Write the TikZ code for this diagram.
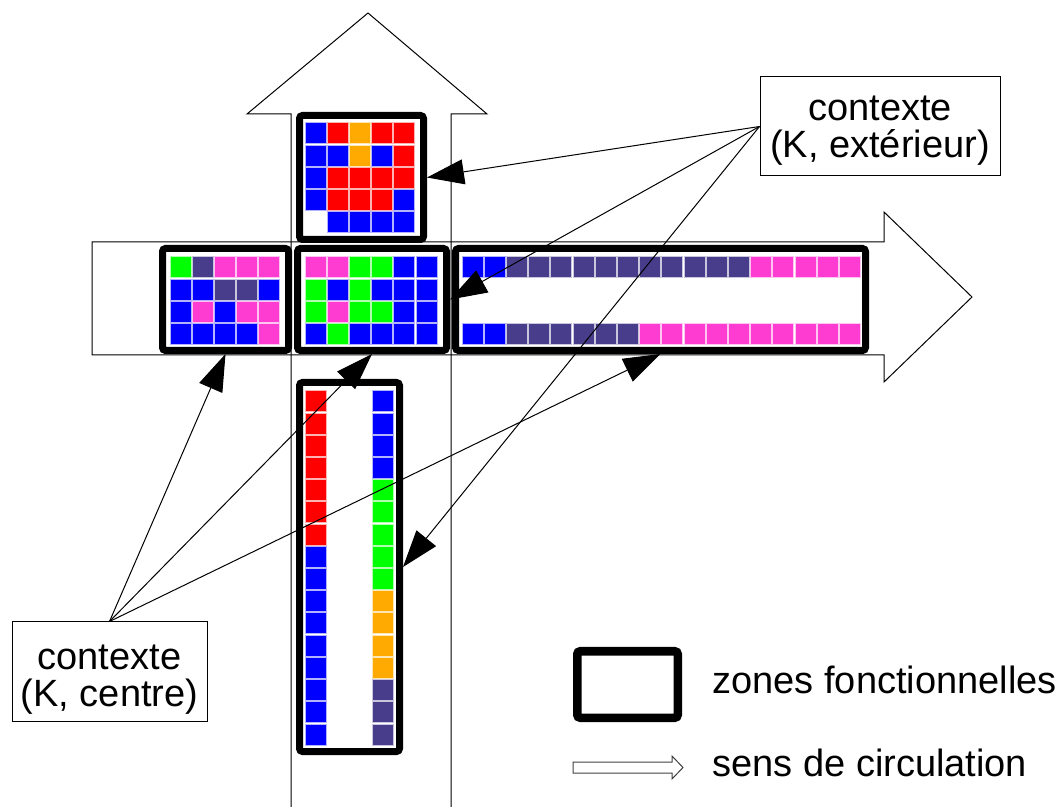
\documentclass[tikz,border=0pt]{standalone}
\usepackage{fontspec}
\setmainfont{Liberation Sans}
\usetikzlibrary{arrows.meta}

\definecolor{cB}{RGB}{0,0,255}
\definecolor{cR}{RGB}{255,0,0}
\definecolor{cO}{RGB}{255,170,0}
\definecolor{cG}{RGB}{0,255,0}
\definecolor{cP}{RGB}{255,60,210}
\definecolor{cS}{RGB}{72,61,139}
\definecolor{cN}{RGB}{255,255,255}

\begin{document}
\begin{tikzpicture}[x=0.5pt,y=-0.5pt]
\tikzstyle{outline} = [draw=black, line width=0.5pt, line join=miter]
\tikzstyle{zone} = [draw, rectangle, rounded corners=1.5pt, line width=3.5pt, fill=white, inner sep=0pt]
\tikzstyle{ctx} = [draw, line width=0.5pt, fill=white, inner sep=0pt]
\tikzstyle{ctxtxt} = [align=center, inner sep=0pt, font=\fontsize{19}{18.5}\selectfont]
\tikzstyle{legtxt} = [anchor=base west, inner sep=0pt, font=\fontsize{19}{21}\selectfont]
\tikzstyle{link} = [line width=0.5pt, -{Triangle[length=18.5pt,width=12.5pt]}]
\useasboundingbox (0,0) rectangle (1061,807);

% sens de circulation
\draw[outline] (291,807) -- (291,114) -- (247,114) -- (368,13) -- (487,114) -- (451,114) -- (451,807);
\draw[outline] (92,242) -- (884,242) -- (884,212) -- (972,297) -- (884,382) -- (884,355) -- (92,355) -- cycle;

% zones fonctionnelles
\node[zone, minimum width=62pt, minimum height=62pt] (top) at (361.5,177.5) {};
\node[zone, minimum width=63pt, minimum height=51pt] (left) at (225.5,299.5) {};
\node[zone, minimum width=74.5pt, minimum height=51pt] (mid) at (372,299.5) {};
\node[zone, minimum width=205pt, minimum height=51pt] (right) at (660.5,299.5) {};
\node[zone, minimum width=50pt, minimum height=184.5pt] (bot) at (349.5,567) {};

% cases
\foreach \row [count=\j from 0] in {{B,R,O,R,R},{B,B,O,B,R},{B,R,R,R,R},{B,R,R,R,B},{N,B,B,B,B}}
  \foreach \c [count=\i from 0] in \row
    \path[fill=c\c, draw=c\c!30!white, line width=0.5pt] ({305+22.2*\i},{123+22.2*\j}) rectangle ++(21,21);
\foreach \row [count=\j from 0] in {{G,S,P,P,P},{B,B,S,S,B},{B,P,B,P,P},{B,B,B,B,P}}
  \foreach \c [count=\i from 0] in \row
    \path[fill=c\c, draw=c\c!30!white, line width=0.5pt] ({170+22.2*\i},{257+22.2*\j}) rectangle ++(21,21);
\foreach \row [count=\j from 0] in {{P,P,G,G,B,B},{G,B,G,B,B,B},{G,P,G,G,B,B},{B,G,B,B,B,B}}
  \foreach \c [count=\i from 0] in \row
    \path[fill=c\c, draw=c\c!30!white, line width=0.5pt] ({305+22.2*\i},{257+22.2*\j}) rectangle ++(21,21);
\foreach \row/\y in {{B,B,S,S,S,S,S,S,S,S,S,S,S,P,P,P,P,P}/257,{B,B,S,S,S,S,S,S,P,P,P,P,P,P,P,P,P,P}/324}
  \foreach \c [count=\i from 0] in \row
    \path[fill=c\c, draw=c\c!30!white, line width=0.5pt] ({462+22.2*\i},\y) rectangle ++(21,21);
\foreach \col/\x in {{R,R,R,R,R,R,R,B,B,B,B,B,B,B,B,B}/305,{B,B,B,B,G,G,G,G,G,O,O,O,O,S,S,S}/372}
  \foreach \c [count=\j from 0] in \col
    \path[fill=c\c, draw=c\c!30!white, line width=0.5pt] (\x,{391+22.2*\j}) rectangle ++(21,21);

% contextes
\node[ctx, minimum width=120pt, minimum height=49.5pt] (ext) at (880,126.5) {};
\node[ctxtxt] (exttxt) at ([yshift=-2pt]ext.center) {contexte\\(K, extérieur)};
\node[ctx, minimum width=97.5pt, minimum height=49.5pt] (ctr) at (109.5,671.5) {};
\node[ctxtxt] (ctrtxt) at ([yshift=-4pt]ctr.center) {contexte\\(K, centre)};
\draw[link] (ext.west) -- (top.east);
\draw[link] (ext.west) -- (mid.east);
\draw[link] (ext.west) -- (bot.east);
\draw[link] (ctr.north) -- (left.south);
\draw[link] (ctr.north) -- (mid.south);
\draw[link] (ctr.north) -- (right.south);

% legende
\node[zone, line width=4.25pt, minimum width=50.25pt, minimum height=33.25pt] (key) at (627.5,684.5) {};
\node[legtxt] (keytxt) at (712,693) {zones fonctionnelles};
\draw[outline, draw=black!75] (573,762) -- (672,762) -- (672,756) -- (683,767.5) -- (672,779) -- (672,773) -- (573,773) -- cycle;
\node[legtxt] (dirtxt) at (712,776) {sens de circulation};
\end{tikzpicture}
\end{document}
